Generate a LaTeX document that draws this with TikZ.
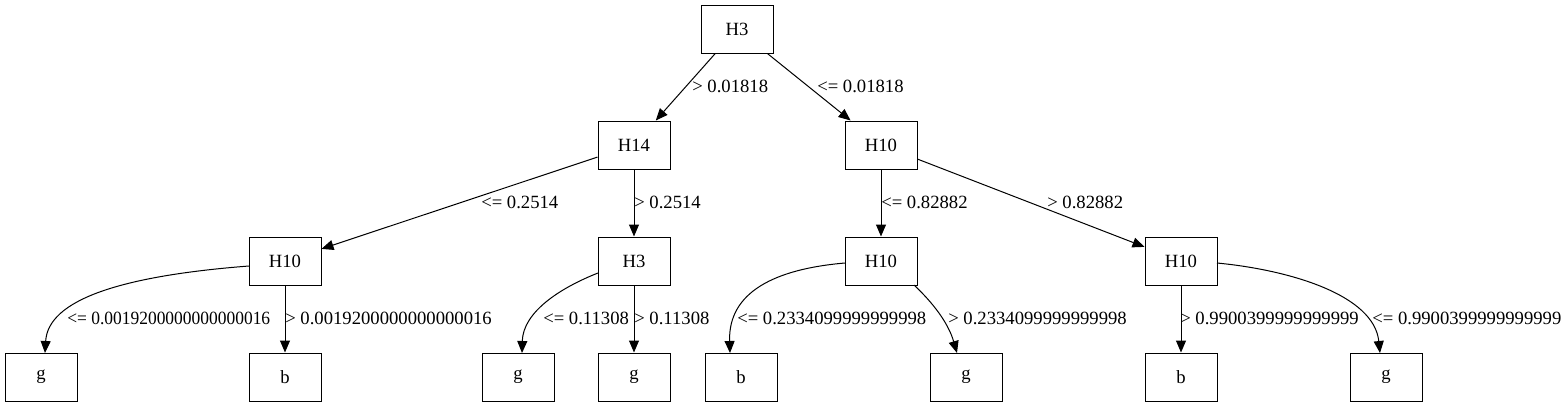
\documentclass[tikz,border=0pt]{standalone}
\usepackage{fontspec}
\setmainfont{Liberation Serif}
\usetikzlibrary{arrows.meta}
\begin{document}
\begin{tikzpicture}[x=0.75pt,y=-0.75pt,
  box/.style={draw,line width=0.75pt,minimum width=54pt,minimum height=36pt,inner sep=0pt,font=\fontsize{14pt}{16pt}\selectfont},
  lbl/.style={anchor=west,inner sep=0pt,font=\fontsize{14pt}{16pt}\selectfont},
  edge/.style={line width=0.75pt,-{Triangle[length=9pt,width=7.5pt]}}]
\useasboundingbox (0,0) rectangle (1561,407);
% nodes
\node[box] (r) at (737,29) {H3};
\node[box] (a) at (634,145) {H14};
\node[box] (b) at (881,145) {H10};
\node[box] (c) at (285,261) {H10};
\node[box] (d) at (634,261) {H3};
\node[box] (e) at (881,261) {H10};
\node[box] (f) at (1181,261) {H10};
\node[box] (l1) at (41,377) {g};
\node[box] (l2) at (285,377) {b};
\node[box] (l3) at (518,377) {g};
\node[box] (l4) at (634,377) {g};
\node[box] (l5) at (741,377) {b};
\node[box] (l6) at (966,377) {g};
\node[box] (l7) at (1181,377) {b};
\node[box] (l8) at (1386,377) {g};
% straight edges
\draw[edge] (r) -- (a);
\draw[edge] (r) -- (b);
\draw[edge] (a) -- (c);
\draw[edge] (a) -- (d);
\draw[edge] (b) -- (e);
\draw[edge] (b) -- (f);
\draw[edge] (c) -- (l2);
\draw[edge] (d) -- (l4);
\draw[edge] (f) -- (l7);
% curved edges
\coordinate (c1) at (249,266);
\coordinate (c2) at (45,353);
\draw[edge] (c1) .. controls (120,276) and (48,300) .. (c2);
\coordinate (d1) at (598,273);
\coordinate (d2) at (522,353);
\draw[edge] (d1) .. controls (560,288) and (523,312) .. (d2);
\coordinate (e1) at (845,263);
\coordinate (e2) at (730,353);
\draw[edge] (e1) .. controls (775,269) and (728,292) .. (e2);
\coordinate (e3) at (914,285);
\coordinate (e4) at (957,353);
\draw[edge] (e3) .. controls (932,302) and (948,322) .. (e4);
\coordinate (f1) at (1217,263);
\coordinate (f2) at (1380,353);
\draw[edge] (f1) .. controls (1290,270) and (1374,295) .. (f2);
% labels
\node[lbl] (t1) at (692,86) {> 0.01818};
\node[lbl] (t2) at (817,86) {<= 0.01818};
\node[lbl] (t3) at (481,202) {<= 0.2514};
\node[lbl] (t4) at (634,202) {> 0.2514};
\node[lbl] (t5) at (881,202) {<= 0.82882};
\node[lbl] (t6) at (1047,202) {> 0.82882};
\node[lbl] (t7) at (67,318) {\scalebox{0.935}[1]{<= 0.0019200000000000016}};
\node[lbl] (t8) at (285,318) {> 0.0019200000000000016};
\node[lbl] (t9) at (543,318) {<= 0.11308};
\node[lbl] (t10) at (634,318) {> 0.11308};
\node[lbl] (t11) at (737,318) {<= 0.2334099999999998};
\node[lbl] (t12) at (948,318) {> 0.2334099999999998};
\node[lbl] (t13) at (1180,318) {> 0.9900399999999999};
\node[lbl] (t14) at (1372,318) {<= 0.9900399999999999};
\end{tikzpicture}
\end{document}
